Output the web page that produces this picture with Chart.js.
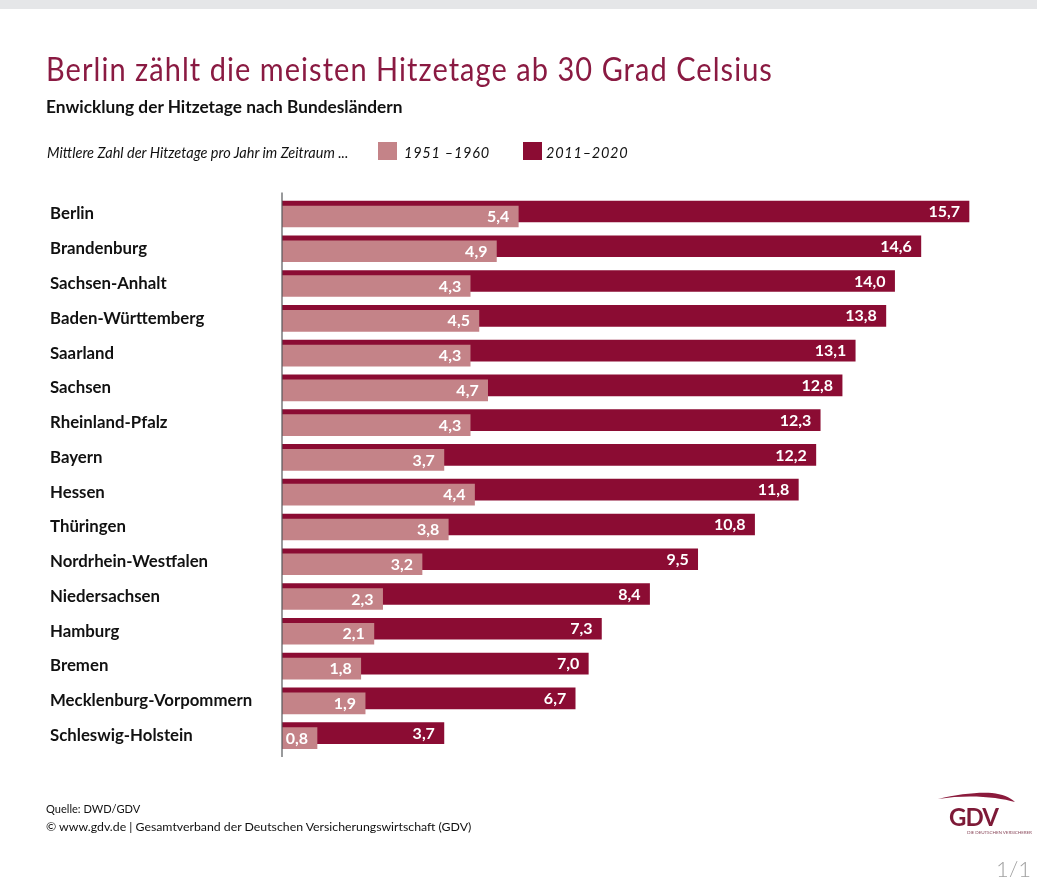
<!DOCTYPE html>
<html lang="de">
<head>
  <meta charset="UTF-8" />
  <title>Hitzetage nach Bundesländern</title>
  <script src="https://cdn.jsdelivr.net/npm/chart.js@4/dist/chart.umd.min.js"></script>
  <style>
    html, body { margin: 0; background: #fff; }
    body { position: relative; width: 1037px; height: 877px; overflow: hidden; font-family: Lato, sans-serif; color: #111; }
    #topband { position: absolute; left: 0; top: 0; width: 1037px; height: 9px; background: #e5e6e8; }
    #numberChart { position: absolute; left: 0; top: 0; }
    .txt { position: absolute; white-space: nowrap; line-height: 1; }
    #title { left: 46px; top: 52px; font-size: 33px; color: #8a1a42; letter-spacing: 1.2px; transform: scaleX(0.878); transform-origin: left top; }
    #subtitle { left: 46px; top: 98px; font-size: 17.3px; font-weight: 700; }
    #legendNote { left: 47px; top: 146px; font-size: 14.5px; font-style: italic; }
    .swatch { position: absolute; top: 142px; height: 18px; }
    #swatchOld { left: 378px; width: 19px; background: #c48388; }
    #swatchNew { left: 523px; width: 19px; background: #8b0c33; }
    .legendLabel { top: 146px; font-size: 14.5px; font-style: italic; letter-spacing: 0.75px; }
    #labelOld { left: 404px; }
    #labelNew { left: 546px; }
    #source { left: 46px; top: 803px; font-size: 12.3px; transform: scaleX(0.9); transform-origin: left top; }
    #copyright { left: 46px; top: 821px; font-size: 12.3px; }
    #logo { position: absolute; left: 930px; top: 785px; }
    #page { left: 996px; top: 858px; font-size: 22px; font-weight: 300; color: #a0a0a0; }
  </style>
</head>
<body>
<div id="topband"></div>
<canvas id="numberChart" width="1037" height="877"></canvas>

<div class="txt" id="title">Berlin zählt die meisten Hitzetage ab 30 Grad Celsius</div>
<div class="txt" id="subtitle">Enwicklung der Hitzetage nach Bundesländern</div>
<div class="txt" id="legendNote">Mittlere Zahl der Hitzetage pro Jahr im Zeitraum ...</div>
<div class="swatch" id="swatchOld"></div>
<div class="txt legendLabel" id="labelOld">1951 –1960</div>
<div class="swatch" id="swatchNew"></div>
<div class="txt legendLabel" id="labelNew">2011–2020</div>
<div class="txt" id="source">Quelle: DWD/GDV</div>
<div class="txt" id="copyright">© www.gdv.de | Gesamtverband der Deutschen Versicherungswirtschaft (GDV)</div>

<svg id="logo" width="107" height="56" viewBox="0 0 107 56">
  <path d="M8 14 C28 9 48 7 62 8 C72 9 80 12 85 17 C68 12 38 9 8 14 Z" fill="#8b1a3c" />
  <text x="19" y="41" font-family="Lato" font-weight="700" font-size="24" fill="#7d1a37" textLength="50">GDV</text>
  <text x="37" y="49" font-family="Lato" font-size="4.6" fill="#8b4a5c" textLength="65">DIE DEUTSCHEN VERSICHERER</text>
</svg>
<div class="txt" id="page">1/1</div>

<script>
  const categories = [
    "Berlin", "Brandenburg", "Sachsen-Anhalt", "Baden-Württemberg", "Saarland", "Sachsen",
    "Rheinland-Pfalz", "Bayern", "Hessen", "Thüringen", "Nordrhein-Westfalen", "Niedersachsen",
    "Hamburg", "Bremen", "Mecklenburg-Vorpommern", "Schleswig-Holstein",
  ];
  const values1951 = [5.4, 4.9, 4.3, 4.5, 4.3, 4.7, 4.3, 3.7, 4.4, 3.8, 3.2, 2.3, 2.1, 1.8, 1.9, 0.8];
  const values2011 = [15.7, 14.6, 14.0, 13.8, 13.1, 12.8, 12.3, 12.2, 11.8, 10.8, 9.5, 8.4, 7.3, 7.0, 6.7, 3.7];

  // the two bars of a row overlap with a small vertical shift
  const shifts = [2.5, -2.5];

  const shiftBars = {
    id: "shiftBars",
    beforeDatasetDraw(chart, args) {
      chart.ctx.save();
      chart.ctx.translate(0, shifts[args.index]);
    },
    afterDatasetDraw(chart) {
      chart.ctx.restore();
    },
  };

  // white value labels inside the bar end, plus the vertical axis line
  const valueLabels = {
    id: "valueLabels",
    afterDraw(chart) {
      const ctx = chart.ctx;
      const y = chart.scales.y;
      ctx.save();
      ctx.strokeStyle = "#55575a";
      ctx.lineWidth = 1.2;
      ctx.beginPath();
      ctx.moveTo(y.right, y.top - 4);
      ctx.lineTo(y.right, y.bottom + 4);
      ctx.stroke();

      ctx.fillStyle = "#fff";
      ctx.font = "700 16px Lato";
      ctx.textAlign = "right";
      ctx.textBaseline = "middle";
      chart.data.datasets.forEach((ds, i) => {
        chart.getDatasetMeta(i).data.forEach((bar, j) => {
          const text = ds.data[j].toFixed(1).replace(".", ",");
          ctx.fillText(text, bar.x - 9, bar.y + shifts[i] + 0.5);
        });
      });
      ctx.restore();
    },
  };

  new Chart(document.getElementById("numberChart"), {
    type: "bar",
    data: {
      labels: categories,
      datasets: [
        { label: "1951–1960", data: values1951, backgroundColor: "#c48388", barThickness: 21, grouped: false, order: 1 },
        { label: "2011–2020", data: values2011, backgroundColor: "#8b0c33", barThickness: 21, grouped: false, order: 2 },
      ],
    },
    options: {
      indexAxis: "y",
      responsive: false,
      animation: false,
      layout: { padding: { left: 50, right: 33, top: 196.6, bottom: 124 } },
      plugins: { legend: { display: false }, title: { display: false }, tooltip: { enabled: false } },
      scales: {
        x: { display: false, min: 0, max: 16.5 },
        y: {
          grid: { display: false },
          border: { display: false },
          afterFit(scale) { scale.width = 232; },
          ticks: { crossAlign: "far", color: "#111", padding: 0, font: { family: "Lato", size: 16.8, weight: "700" } },
        },
      },
    },
    plugins: [shiftBars, valueLabels],
  });
</script>
</body>
</html>
